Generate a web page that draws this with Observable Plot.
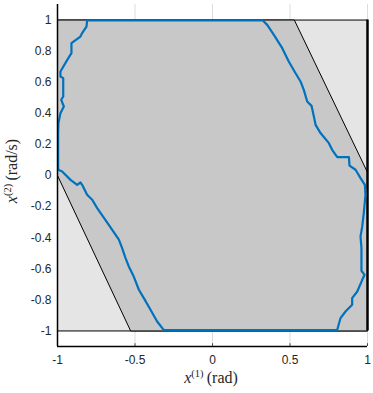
<!DOCTYPE html>
<html><head><meta charset="utf-8">
<script src="https://cdn.jsdelivr.net/npm/d3@7"></script>
<script src="https://cdn.jsdelivr.net/npm/@observablehq/plot@0.6"></script>
<style>body{margin:0;background:#fff}svg{display:block}</style>
</head><body><div id="chart"></div>
<script>
const xTicks = [-1, -0.5, 0, 0.5, 1];
const yTicks = [-1, -0.8, -0.6, -0.4, -0.2, 0, 0.2, 0.4, 0.6, 0.8, 1];
// outer (light) region
const outerX = [-1, 1, 1, -1, -1];
const outerY = [-1, -1, 1, 1, -1];
// inner hexagon (dark) region
const hexX = [-1, 0.528, 1, 1, -0.528, -1, -1];
const hexY = [1, 1, 0.02, -1, -1, 0, 1];
// blue contour
const blueX = [-0.809, 0.325, 0.353, 0.396, 0.45, 0.492, 0.535, 0.568, 0.589, 0.611, 0.639, 0.654, 0.665, 0.697, 0.751, 0.772, 0.805, 0.88, 0.884, 0.923, 0.955, 0.983, 0.987, 0.976, 0.966, 0.955, 0.961, 0.961, 0.981, 0.966, 0.934, 0.901, 0.901, 0.858, 0.826, 0.804,
  -0.314, -0.357, -0.4, -0.443, -0.475, -0.508, -0.54, -0.561, -0.583, -0.604, -0.669, -0.744, -0.776, -0.809, -0.841, -0.852, -0.873, -0.916, -0.97, -0.995, -0.996, -0.996, -0.994, -0.981, -0.959, -0.976, -0.963, -0.963, -0.981, -0.981, -0.937, -0.91, -0.91, -0.852, -0.841, -0.813, -0.809];
const blueY = [0.997, 0.997, 0.969, 0.905, 0.819, 0.733, 0.659, 0.605, 0.551, 0.476, 0.448, 0.379, 0.326, 0.273, 0.208, 0.165, 0.118, 0.118, 0.064, 0.037, -0.017, -0.06, -0.124, -0.242, -0.328, -0.392, -0.467, -0.613, -0.639, -0.671, -0.746, -0.789, -0.832, -0.875, -0.917, -0.995,
  -0.995, -0.939, -0.864, -0.789, -0.735, -0.65, -0.585, -0.531, -0.467, -0.413, -0.317, -0.21, -0.156, -0.124, -0.06, -0.045, -0.06, -0.028, 0.026, 0.037, 0.058, 0.273, 0.337, 0.401, 0.444, 0.487, 0.508, 0.626, 0.637, 0.669, 0.744, 0.787, 0.851, 0.894, 0.916, 0.958, 0.997];

const pts = (xs, ys) => xs.map((x, i) => ({x, y: ys[i]}));
const outer = pts(outerX, outerY);
const hex = pts(hexX, hexY);
const blue = pts(blueX, blueY);

const W = 373, H = 393;
const chart = Plot.plot({
  width: W, height: H,
  marginLeft: 57, marginRight: 6, marginTop: 4, marginBottom: 47,
  style: {fontFamily: "'Liberation Sans', Arial, sans-serif", fontSize: "12px", color: "#262626", background: "#fff", overflow: "visible"},
  x: {type: "linear", domain: [-1, 1]},
  y: {type: "linear", domain: [-1.1, 1.1]},
  marks: [
    Plot.gridX(xTicks, {stroke: "#dcdcdc", strokeOpacity: 1}),
    Plot.line(outer, {x: "x", y: "y", fill: "#e5e5e5", stroke: "#000", strokeWidth: 1}),
    Plot.line(hex, {x: "x", y: "y", fill: "#c8c8c8", stroke: "#000", strokeWidth: 1}),
    Plot.ruleX([1], {y1: -1, y2: 1, stroke: "#000", strokeWidth: 2.5}),
    Plot.line(blue, {x: "x", y: "y", stroke: "#0072BD", strokeWidth: 2.2, strokeLinejoin: "round"}),
    Plot.ruleX(xTicks, {y1: -1.1, y2: -1.082, stroke: "#262626", strokeWidth: 0.8}),
    Plot.axisX(xTicks, {tickSize: 0, tickPadding: 9, tickFormat: d => String(d), label: null, fill: "#262626"}),
    Plot.axisY(yTicks, {tickSize: 0, tickPadding: 6, tickFormat: d => String(d), label: null, fill: "#262626"}),
    Plot.ruleX([-1], {stroke: "#000", strokeWidth: 1.5}),
    Plot.ruleY([-1.1], {stroke: "#000", strokeWidth: 1.5})
  ]
});
document.getElementById("chart").appendChild(chart);

// LaTeX-like axis labels
const svg = d3.select(chart);
const serif = "'Liberation Serif', 'DejaVu Serif', serif";
const xl = svg.append("text").attr("x", 211).attr("y", 383).attr("text-anchor", "middle")
  .attr("font-family", serif).attr("font-size", 16).attr("fill", "#262626");
xl.append("tspan").attr("font-style", "italic").text("x");
xl.append("tspan").attr("font-size", 10.5).attr("dy", -6).text("(1)");
xl.append("tspan").attr("dy", 6).text("\u2009(rad)");

const yl = svg.append("text").attr("transform", "translate(17,171) rotate(-90)").attr("text-anchor", "middle")
  .attr("font-family", serif).attr("font-size", 16).attr("fill", "#262626");
yl.append("tspan").attr("font-style", "italic").text("x");
yl.append("tspan").attr("font-size", 10.5).attr("dy", -6).text("(2)");
yl.append("tspan").attr("dy", 6).text("\u2009(rad/s)");
</script></body></html>
